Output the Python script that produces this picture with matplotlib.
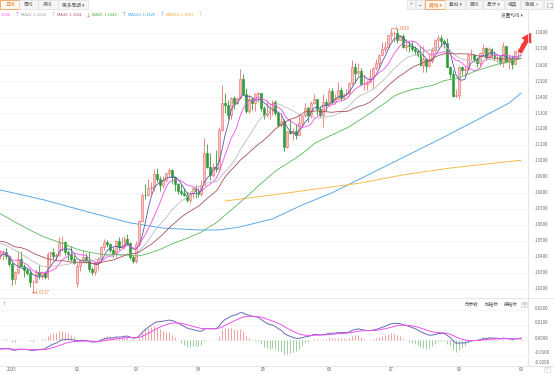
import numpy as np
import pandas as pd
import matplotlib
matplotlib.use('Agg')
import matplotlib.pyplot as plt
from matplotlib.patches import Rectangle, FancyArrow
from matplotlib.transforms import IdentityTransform

plt.rcParams['font.family'] = ['Noto Sans CJK SC', 'DejaVu Sans']

# ---------------- data ----------------
# warm-up closes before the first drawn bar (2024-10-01 .. 2024-12-24), used for MA / MACD
hist_close = [
    1.1070, 1.1045, 1.1030, 1.0975, 1.0975, 1.0980, 1.0940, 1.0935, 1.0935, 1.0910, 1.0890, 1.0860,
    1.0830, 1.0865, 1.0815, 1.0800, 1.0780, 1.0825, 1.0795, 1.0815, 1.0815, 1.0855, 1.0885,
    1.0835, 1.0880, 1.0930, 1.0730, 1.0800, 1.0720, 1.0655, 1.0625, 1.0565, 1.0530, 1.0540,
    1.0600, 1.0595, 1.0545, 1.0470, 1.0415, 1.0495, 1.0490, 1.0565, 1.0550, 1.0575,
    1.0495, 1.0510, 1.0510, 1.0585, 1.0565, 1.0555, 1.0525, 1.0495, 1.0470, 1.0500, 1.0515,
    1.0490, 1.0350, 1.0365, 1.0430, 1.0405, 1.0405,
]

# drawn bars: 2024-12-26 .. 2025-09-01
open_ = [
    1.0408, 1.0422, 1.0429, 1.0405,
    1.0354, 1.0265, 1.0307, 1.0390, 1.0343, 1.0320, 1.0301, 1.0243, 1.0245, 1.0306, 1.0290, 1.0300, 1.0272, 1.0416, 1.0431, 1.0409, 1.0415, 1.0493, 1.0495, 1.0430, 1.0421, 1.0390,
    1.0240, 1.0345, 1.0380, 1.0403, 1.0382, 1.0328, 1.0307, 1.0361, 1.0385, 1.0465, 1.0492, 1.0483, 1.0445, 1.0420, 1.0500, 1.0460, 1.0467, 1.0515, 1.0485, 1.0400,
    1.0375, 1.0483, 1.0625, 1.0790, 1.0785, 1.0833, 1.0835, 1.0920, 1.0890, 1.0853, 1.0880, 1.0922, 1.0944, 1.0900, 1.0855, 1.0815, 1.0800, 1.0790, 1.0755, 1.0800, 1.0830,
    1.0815, 1.0792, 1.0852, 1.1050, 1.0960, 1.0910, 1.0960, 1.0950, 1.1195, 1.1360, 1.1350, 1.1285, 1.1395, 1.1365, 1.1395, 1.1510, 1.1420, 1.1310, 1.1390, 1.1365, 1.1420, 1.1425,
    1.1330, 1.1290, 1.1298, 1.1315, 1.1370, 1.1300, 1.1225, 1.1250, 1.1090, 1.1185, 1.1175, 1.1190, 1.1165, 1.1240, 1.1285, 1.1330, 1.1285, 1.1365, 1.1385, 1.1325, 1.1290, 1.1370,
    1.1350, 1.1440, 1.1370, 1.1385, 1.1445, 1.1395, 1.1420, 1.1425, 1.1485, 1.1585, 1.1550, 1.1560, 1.1480, 1.1480, 1.1495, 1.1525, 1.1580, 1.1610, 1.1665, 1.1700, 1.1715,
    1.1785, 1.1800, 1.1800, 1.1755, 1.1780, 1.1710, 1.1725, 1.1720, 1.1700, 1.1690, 1.1665, 1.1600, 1.1640, 1.1595, 1.1625, 1.1695, 1.1755, 1.1770, 1.1750, 1.1740, 1.1590, 1.1545, 1.1405,
    1.1415, 1.1590, 1.1570, 1.1575, 1.1660, 1.1665, 1.1640, 1.1615, 1.1675, 1.1705, 1.1650, 1.1700, 1.1665, 1.1650, 1.1650, 1.1610, 1.1720, 1.1620, 1.1640, 1.1605, 1.1685,
    1.1685,
]
high = [
    1.0445, 1.0444, 1.0456, 1.0412,
    1.0370, 1.0315, 1.0437, 1.0436, 1.0358, 1.0333, 1.0320, 1.0254, 1.0325, 1.0353, 1.0310, 1.0310, 1.0433, 1.0437, 1.0454, 1.0428, 1.0522, 1.0532, 1.0497, 1.0445, 1.0469, 1.0410,
    1.0365, 1.0385, 1.0442, 1.0422, 1.0430, 1.0336, 1.0375, 1.0403, 1.0470, 1.0513, 1.0505, 1.0490, 1.0460, 1.0505, 1.0528, 1.0527, 1.0530, 1.0545, 1.0495, 1.0410,
    1.0497, 1.0630, 1.0797, 1.0854, 1.0888, 1.0866, 1.0947, 1.0955, 1.0905, 1.0905, 1.0925, 1.0955, 1.0953, 1.0905, 1.0860, 1.0858, 1.0830, 1.0805, 1.0810, 1.0840, 1.0850,
    1.0830, 1.0882, 1.1145, 1.1107, 1.1050, 1.0990, 1.1070, 1.1215, 1.1475, 1.1425, 1.1380, 1.1400, 1.1405, 1.1395, 1.1573, 1.1545, 1.1455, 1.1420, 1.1395, 1.1425, 1.1430, 1.1425,
    1.1345, 1.1380, 1.1365, 1.1380, 1.1380, 1.1315, 1.1290, 1.1260, 1.1190, 1.1265, 1.1205, 1.1230, 1.1285, 1.1285, 1.1365, 1.1345, 1.1375, 1.1420, 1.1385, 1.1345, 1.1420, 1.1385,
    1.1455, 1.1455, 1.1420, 1.1495, 1.1460, 1.1425, 1.1450, 1.1495, 1.1630, 1.1615, 1.1615, 1.1580, 1.1540, 1.1505, 1.1575, 1.1585, 1.1640, 1.1670, 1.1745, 1.1745, 1.1790,
    1.1830, 1.1810, 1.1830, 1.1790, 1.1795, 1.1765, 1.1750, 1.1750, 1.1720, 1.1695, 1.1720, 1.1720, 1.1640, 1.1670, 1.1710, 1.1760, 1.1790, 1.1790, 1.1760, 1.1770, 1.1595, 1.1570, 1.1450,
    1.1595, 1.1595, 1.1595, 1.1675, 1.1700, 1.1670, 1.1650, 1.1680, 1.1730, 1.1715, 1.1715, 1.1705, 1.1690, 1.1665, 1.1660, 1.1745, 1.1720, 1.1665, 1.1660, 1.1690, 1.1700,
    1.1735,
]
low = [
    1.0385, 1.0384, 1.0389, 1.0343,
    1.0226, 1.0230, 1.0292, 1.0340, 1.0274, 1.0290, 1.0212, 1.0177, 1.0238, 1.0265, 1.0265, 1.0265, 1.0265, 1.0340, 1.0385, 1.0380, 1.0405, 1.0435, 1.0410, 1.0382, 1.0376, 1.0355,
    1.0210, 1.0310, 1.0360, 1.0360, 1.0305, 1.0285, 1.0285, 1.0316, 1.0370, 1.0445, 1.0460, 1.0430, 1.0400, 1.0400, 1.0445, 1.0455, 1.0450, 1.0475, 1.0390, 1.0360,
    1.0360, 1.0470, 1.0620, 1.0760, 1.0780, 1.0792, 1.0815, 1.0870, 1.0810, 1.0830, 1.0870, 1.0900, 1.0865, 1.0815, 1.0795, 1.0790, 1.0780, 1.0745, 1.0735, 1.0770, 1.0770,
    1.0777, 1.0780, 1.0850, 1.0955, 1.0880, 1.0900, 1.0930, 1.0940, 1.1190, 1.1300, 1.1265, 1.1265, 1.1325, 1.1355, 1.1390, 1.1410, 1.1300, 1.1300, 1.1320, 1.1315, 1.1370, 1.1310,
    1.1265, 1.1275, 1.1265, 1.1290, 1.1290, 1.1210, 1.1215, 1.1065, 1.1080, 1.1170, 1.1130, 1.1135, 1.1160, 1.1210, 1.1275, 1.1245, 1.1270, 1.1355, 1.1285, 1.1275, 1.1210, 1.1315,
    1.1345, 1.1355, 1.1355, 1.1385, 1.1375, 1.1390, 1.1405, 1.1405, 1.1475, 1.1490, 1.1530, 1.1475, 1.1445, 1.1445, 1.1490, 1.1455, 1.1570, 1.1590, 1.1660, 1.1680, 1.1710,
    1.1750, 1.1745, 1.1740, 1.1755, 1.1705, 1.1685, 1.1680, 1.1685, 1.1660, 1.1650, 1.1595, 1.1555, 1.1555, 1.1590, 1.1615, 1.1680, 1.1710, 1.1720, 1.1705, 1.1585, 1.1520, 1.1400, 1.1400,
    1.1390, 1.1535, 1.1530, 1.1570, 1.1630, 1.1620, 1.1590, 1.1590, 1.1665, 1.1630, 1.1645, 1.1650, 1.1630, 1.1620, 1.1600, 1.1585, 1.1615, 1.1575, 1.1575, 1.1605, 1.1645,
    1.1680,
]
close = [
    1.0422, 1.0429, 1.0405, 1.0354,
    1.0265, 1.0307, 1.0390, 1.0343, 1.0320, 1.0301, 1.0243, 1.0245, 1.0306, 1.0290, 1.0300, 1.0272, 1.0416, 1.0431, 1.0409, 1.0415, 1.0493, 1.0495, 1.0430, 1.0421, 1.0390, 1.0362,
    1.0345, 1.0380, 1.0403, 1.0382, 1.0328, 1.0307, 1.0361, 1.0385, 1.0465, 1.0492, 1.0483, 1.0445, 1.0420, 1.0500, 1.0460, 1.0467, 1.0515, 1.0485, 1.0400, 1.0375,
    1.0483, 1.0625, 1.0790, 1.0785, 1.0833, 1.0835, 1.0920, 1.0890, 1.0853, 1.0880, 1.0922, 1.0944, 1.0900, 1.0855, 1.0815, 1.0800, 1.0790, 1.0755, 1.0800, 1.0830, 1.0815,
    1.0792, 1.0852, 1.1050, 1.0960, 1.0910, 1.0960, 1.0950, 1.1195, 1.1360, 1.1350, 1.1285, 1.1395, 1.1365, 1.1395, 1.1510, 1.1420, 1.1310, 1.1390, 1.1365, 1.1420, 1.1425, 1.1330,
    1.1290, 1.1298, 1.1315, 1.1370, 1.1300, 1.1225, 1.1250, 1.1090, 1.1185, 1.1175, 1.1190, 1.1165, 1.1240, 1.1285, 1.1330, 1.1285, 1.1365, 1.1385, 1.1325, 1.1290, 1.1370, 1.1350,
    1.1440, 1.1370, 1.1385, 1.1445, 1.1395, 1.1420, 1.1425, 1.1485, 1.1585, 1.1550, 1.1560, 1.1480, 1.1480, 1.1495, 1.1525, 1.1580, 1.1610, 1.1665, 1.1700, 1.1715, 1.1785,
    1.1800, 1.1800, 1.1755, 1.1780, 1.1710, 1.1725, 1.1720, 1.1700, 1.1690, 1.1665, 1.1600, 1.1640, 1.1595, 1.1625, 1.1695, 1.1755, 1.1770, 1.1750, 1.1740, 1.1590, 1.1545, 1.1405, 1.1415,
    1.1590, 1.1570, 1.1575, 1.1660, 1.1665, 1.1640, 1.1615, 1.1675, 1.1705, 1.1650, 1.1700, 1.1665, 1.1650, 1.1650, 1.1610, 1.1720, 1.1620, 1.1640, 1.1605, 1.1685, 1.1685,
    1.1715,
]

# long moving averages (their history starts before the window)
ma120_dates = ['2024-12-26', '2025-01-17', '2025-02-10', '2025-02-27', '2025-03-14', '2025-04-01',
               '2025-04-10', '2025-04-21', '2025-05-06', '2025-05-20', '2025-06-03', '2025-06-30',
               '2025-07-23', '2025-08-13', '2025-08-26', '2025-09-01']
ma120_vals = [1.0819, 1.0756, 1.0675, 1.0613, 1.0581, 1.0569, 1.0569, 1.0588, 1.0638, 1.0725,
              1.0800, 1.0975, 1.1131, 1.1275, 1.1363, 1.1425]
ma250_dates = ['2025-04-14', '2025-05-06', '2025-05-20', '2025-06-17', '2025-07-07', '2025-07-29', '2025-09-01']
ma250_vals = [1.0750, 1.0788, 1.0813, 1.0863, 1.0913, 1.0956, 1.1005]

ma_periods = [5, 10, 20, 30, 60]
ma_colors = ['#5757ad', '#f050f0', '#bdbdbd', '#a8525a', '#5cb85c']
ma120_color = '#5aaae6'
ma250_color = '#f6bd50'

legend_items = [('.1666', '↑', '#e84ee8', '#e84ee8'),
                ('MA20: 1.1664', '↑', '#9a9a9a', '#9a9a9a'),
                ('MA30: 1.1641', '↓', '#a8525a', '#e03a3a'),
                ('MA60: 1.1646', '↑', '#3faa3f', '#3faa3f'),
                ('MA120: 1.1425', '↑', '#3d9be0', '#3d9be0'),
                ('MA250: 1.1007', '↑', '#f0a536', '#f0a536')]
price_ticks = [1.02, 1.03, 1.04, 1.05, 1.06, 1.07, 1.08, 1.09, 1.10, 1.11, 1.12, 1.13, 1.14, 1.15, 1.16, 1.17, 1.18]
macd_ticks = [0.02, 0.01, 0.0, -0.01, -0.02]
month_labels = ['2025', '02', '03', '04', '05', '06', '07', '08', '09']
month_starts = ['2025-01-02', '2025-02-03', '2025-03-03', '2025-04-01', '2025-05-01',
                '2025-06-02', '2025-07-01', '2025-08-01', '2025-09-01']

# ---------------- derived ----------------
dates = pd.bdate_range('2024-12-26', '2025-09-01')
dates = dates[dates != pd.Timestamp('2025-01-01')]
n = len(close)
assert len(dates) == n == len(open_) == len(high) == len(low)
xs = np.arange(n)
date_pos = {d: i for i, d in enumerate(dates)}

full = pd.Series(hist_close + close)
nh = len(hist_close)
mas = [full.rolling(p).mean().values[nh:] for p in ma_periods]
ema12 = full.ewm(span=12, adjust=False).mean()
ema26 = full.ewm(span=26, adjust=False).mean()
dif = ema12 - ema26
dea = dif.ewm(span=9, adjust=False).mean()
macd_bar = (2 * (dif - dea)).values[nh:]
dif = dif.values[nh:]
dea = dea.values[nh:]

# ---------------- layout ----------------
W, H = 554, 375
fig = plt.figure(figsize=(W / 100, H / 100), dpi=100)
fig.patch.set_facecolor('white')


def fx(x):
    return x / W


def fy(y):
    return 1 - y / H


PXB = 2.96          # pixels per bar
X0 = 0.16           # pixel of bar 0
AXR = 528
main_top, main_bot = 20, 297
macd_top, macd_bot = 298, 366
P_REF_Y, P_REF, P_SCALE = 33, 1.18, 1600.0
Z_Y, M_SCALE = 340, 1500.0

ax = fig.add_axes([0, fy(main_bot), fx(AXR), (main_bot - main_top) / H])
axm = fig.add_axes([0, fy(macd_bot), fx(AXR), (macd_bot - macd_top) / H])
xlim = (-X0 / PXB, (AXR - X0) / PXB)
for a in (ax, axm):
    a.set_xlim(*xlim)
    a.set_xticks([])
    a.set_yticks([])
    for s in a.spines.values():
        s.set_visible(False)
    a.patch.set_alpha(0)

ax.set_ylim(P_REF - (main_bot - P_REF_Y) / P_SCALE, P_REF + (P_REF_Y - main_top) / P_SCALE)
axm.set_ylim(-(macd_bot - Z_Y) / M_SCALE, (Z_Y - macd_top) / M_SCALE)

grid_kw = dict(color='#e4e4e4', lw=0.5, ls=(0, (2, 2)), zorder=0)
for v in price_ticks:
    ax.axhline(v, **grid_kw)
for v in macd_ticks[:-1]:
    axm.axhline(v, **grid_kw)

# candles
o = np.array(open_); h = np.array(high); l = np.array(low); c = np.array(close)
up = c >= o
up_face, up_edge = '#f8c4c4', '#ee7474'
dn_face = '#2f9c37'
ax.vlines(xs[up], l[up], h[up], colors=up_edge, lw=0.6, zorder=3)
ax.vlines(xs[~up], l[~up], h[~up], colors=dn_face, lw=0.6, zorder=3)
body = np.maximum(np.abs(c - o), 0.00012)
ax.bar(xs[up], body[up], bottom=np.minimum(o, c)[up], width=0.66, color=up_face,
       edgecolor=up_edge, lw=0.45, zorder=4)
ax.bar(xs[~up], body[~up], bottom=np.minimum(o, c)[~up], width=0.66, color=dn_face,
       edgecolor=dn_face, lw=0.45, zorder=4)

# moving averages
for m, col in zip(mas, ma_colors):
    ax.plot(xs, m, color=col, lw=0.6, zorder=5)
ax.plot([date_pos[pd.Timestamp(d)] for d in ma120_dates], ma120_vals, color=ma120_color, lw=0.7, zorder=2)
ax.plot([date_pos[pd.Timestamp(d)] for d in ma250_dates], ma250_vals, color=ma250_color, lw=0.7, zorder=2)

# MACD
pos = macd_bar >= 0
axm.vlines(xs[pos], 0, macd_bar[pos], colors='#f2a3a3', lw=0.75, zorder=2)
axm.vlines(xs[~pos], 0, macd_bar[~pos], colors='#9fd09f', lw=0.75, zorder=2)
axm.plot(xs, dif, color='#6a6ab8', lw=0.7, zorder=3)
axm.plot(xs, dea, color='#f050f0', lw=0.7, zorder=3)


# ---------------- text / chrome ----------------
def T(x, y, s, size=3.2, color='#555555', ha='left', va='center', **kw):
    fig.text(fx(x), fy(y), s, fontsize=size, color=color, ha=ha, va=va, **kw)


def box(x0, y0, x1, y1, fc, ec, lw=0.5):
    fig.add_artist(Rectangle((fx(x0), fy(y1)), (x1 - x0) / W, (y1 - y0) / H,
                             transform=fig.transFigure, fc=fc, ec=ec, lw=lw))


def seg(x0, y0, x1, y1, color='#e2e2e2', lw=0.6):
    fig.add_artist(plt.Line2D([fx(x0), fx(x1)], [fy(y0), fy(y1)], transform=fig.transFigure,
                              color=color, lw=lw, solid_capstyle='butt'))


# tabs
tabs = [('日线', 0, 19, True), ('周线', 19, 38, False), ('月线', 38, 58, False), ('更多周期 ▾', 58, 88, False)]
for s, x0, x1, sel in tabs:
    box(x0, 0, x1, 9, '#fff6ef' if sel else '#f6f6f6', '#f08a3c' if sel else '#dedede')
    T((x0 + x1) / 2, 4.6, s, size=3.4, color='#f07a26' if sel else '#666666', ha='center')
btns = [('+', 407, 415, False), ('−', 416, 424, False), ('蜡烛 ▾', 425, 445, True), ('叠加 ▾', 445, 465, False),
        ('画线', 466, 482, False), ('显示 ▾', 483, 504, False), ('经典', 505, 520, False), ('隐藏 ››', 521, 543, False)]
for s, x0, x1, sel in btns:
    box(x0, 0, x1, 9, '#fff6ef' if sel else '#f6f6f6', '#f08a3c' if sel else '#dedede')
    T((x0 + x1) / 2, 4.6, s, size=3.4, color='#f07a26' if sel else '#666666', ha='center')
box(544, 0, 554, 9, '#f6f6f6', '#dedede')
# full-screen icon: four small corner brackets
for cx, cy, dx, dy in [(546.5, 2.5, 1, 1), (551.5, 2.5, -1, 1), (546.5, 6.5, 1, -1), (551.5, 6.5, -1, -1)]:
    seg(cx, cy, cx + 1.5 * dx, cy, color='#777777', lw=0.4)
    seg(cx, cy, cx, cy + 1.5 * dy, color='#777777', lw=0.4)

# legend row
lx = [(0.5, 17), (21, 53), (57, 88), (92, 124), (128, 162), (166, 200)]
for (s, arr, tc, ac), (x_t, x_a) in zip(legend_items, lx):
    T(x_t, 15, s, size=3.0, color=tc)
    T(x_a, 15, arr, size=3.4, color=ac, ha='center')
T(512, 14.5, '设置均线 ▾', size=3.3, color='#555555', ha='center')

# panel frame lines
seg(AXR, 10, AXR, 366)
seg(0, 297.5, W, 297.5)
seg(0, 366, W, 366)

# right axis labels
for v in price_ticks:
    T(535, P_REF_Y + (P_REF - v) * P_SCALE, f'{v:.4f}', size=3.1, color='#666666')
for v in macd_ticks:
    yy = min(Z_Y - v * M_SCALE - 2, 362)
    T(535, yy, f'{v:.4f}', size=3.1, color='#666666')

# x-axis month labels
for s, d in zip(month_labels, month_starts):
    T(X0 + PXB * date_pos[pd.Timestamp(d)], 369.5, s, size=3.1, color='#666666', ha='center')
box(544, 366.5, 550, 372, 'white', '#cccccc', lw=0.4)
T(547, 369.3, '▷', size=2.6, color='#999999', ha='center', family=['DejaVu Sans'])

# extreme labels
i_hi = int(np.argmax(h)); i_lo = int(np.argmin(l))
ax.annotate(f'←{h[i_hi]:.4f}', xy=(i_hi, h[i_hi]), xytext=(0.5, 0), textcoords='offset points',
            fontsize=3.2, color='#ea7a4a', va='center', ha='left', annotation_clip=False, zorder=6)
ax.annotate(f'←{l[i_lo]:.4f}', xy=(i_lo, l[i_lo]), xytext=(-0.5, 0), textcoords='offset points',
            fontsize=3.2, color='#ea7a4a', va='center', ha='left', annotation_clip=False, zorder=6)

# MACD panel chrome
T(4, 304, '↑', size=3.4, color='#888888', ha='center')
T(472, 304, '改参数', size=3.3, color='#555555', ha='center')
T(492, 304, '加指标', size=3.3, color='#555555', ha='center')
T(511, 304, '换指标', size=3.3, color='#555555', ha='center')
box(521, 301.5, 527, 307, '#f2f2f2', '#cccccc', lw=0.4)
T(524, 304.2, '×', size=3.0, color='#777777', ha='center', family=['DejaVu Sans'])

# red trend arrow
fig.add_artist(FancyArrow(520, H - 52, 10.5, 18.5, width=3.2, head_width=9.5, head_length=8,
                          length_includes_head=True, color='#f23c3c', transform=IdentityTransform()))

fig.savefig('out.png', dpi=100, facecolor='white')
